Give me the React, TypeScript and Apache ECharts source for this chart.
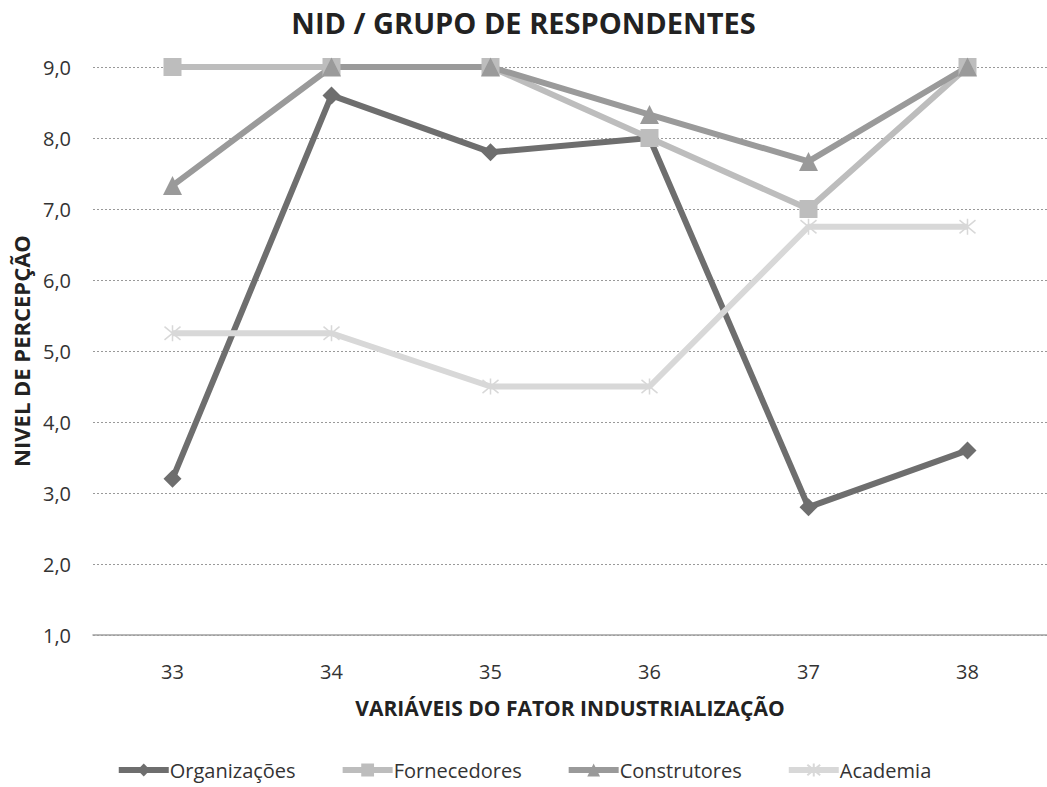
import React, { useEffect, useRef } from "react";
import * as echarts from "echarts";

const categories = ["33", "34", "35", "36", "37", "38"];
const organizacoes = [3.2, 8.6, 7.8, 8.0, 2.8, 3.6];
const fornecedores = [9.0, 9.0, 9.0, 8.0, 7.0, 9.0];
const construtores = [7.33, 9.0, 9.0, 8.33, 7.67, 9.0];
const academia = [5.25, 5.25, 4.5, 4.5, 6.75, 6.75];

const FONT = "'Open Sans', 'Noto Sans', sans-serif";
const STAR = "path://M0 0 L10 10 M10 0 L0 10 M5 -1 L5 11";

export default function App() {
  const ref = useRef<HTMLDivElement>(null);
  useEffect(() => {
    if (!ref.current) return;
    const chart = echarts.init(ref.current, undefined, { renderer: "svg" });
    const mk = (name: string, data: number[], color: string, symbol: string, size: number, extra: any = {}) => ({
      name,
      type: "line",
      data,
      symbol,
      symbolSize: size,
      lineStyle: { color, width: 6 },
      itemStyle: { color, ...extra },
      emphasis: { disabled: true },
    });
    chart.setOption({
      animation: false,
      title: {
        text: "NID / GRUPO DE RESPONDENTES",
        left: "center",
        top: 3,
        textStyle: { fontFamily: FONT, fontSize: 29, fontWeight: "bold", color: "#222" },
      },
      grid: { left: 93, right: -1, top: 67, bottom: 152, containLabel: false },
      xAxis: {
        type: "category",
        data: categories,
        boundaryGap: true,
        name: "VARIÁVEIS DO FATOR INDUSTRIALIZAÇÃO",
        nameLocation: "middle",
        nameGap: 62,
        nameTextStyle: { fontFamily: FONT, fontSize: 21, fontWeight: "bold", color: "#222" },
        axisLine: { show: true, lineStyle: { color: "#a0a0a0", width: 1.5 } },
        axisTick: { show: false },
        axisLabel: { fontFamily: FONT, fontSize: 20, color: "#333", margin: 26 },
      },
      yAxis: {
        type: "value",
        min: 1,
        max: 9,
        interval: 1,
        name: "NIVEL DE PERCEPÇÃO",
        nameLocation: "middle",
        nameGap: 58,
        nameTextStyle: { fontFamily: FONT, fontSize: 22, fontWeight: "bold", color: "#222" },
        axisLine: { show: false },
        axisTick: { show: false },
        axisLabel: {
          fontFamily: FONT,
          fontSize: 20,
          color: "#333",
          margin: 22,
          formatter: (v: number) => v.toFixed(1).replace(".", ","),
        },
        splitLine: { lineStyle: { color: "#999", type: [2, 2], width: 1 } },
      },
      legend: {
        bottom: 2,
        left: "center",
        itemWidth: 50,
        itemHeight: 16,
        itemGap: 44,
        lineStyle: { width: 6 },
        textStyle: { fontFamily: FONT, fontSize: 20, color: "#333", padding: [0, 0, 0, -4] },
        data: ["Organizações", "Fornecedores", "Construtores", "Academia"],
      },
      series: [
        mk("Organizações", organizacoes, "#6e6e6e", "diamond", 18),
        mk("Fornecedores", fornecedores, "#bdbdbd", "rect", 18),
        mk("Construtores", construtores, "#9a9a9a", "triangle", 19),
        mk("Academia", academia, "#d8d8d8", STAR, 16, { borderColor: "#d8d8d8", borderWidth: 1.5 }),
      ],
    });
    return () => chart.dispose();
  }, []);
  return (
    <div
      ref={ref}
      style={{ position: "absolute", left: 0, top: 0, width: 1047, height: 787, background: "#fff" }}
    />
  );
}
